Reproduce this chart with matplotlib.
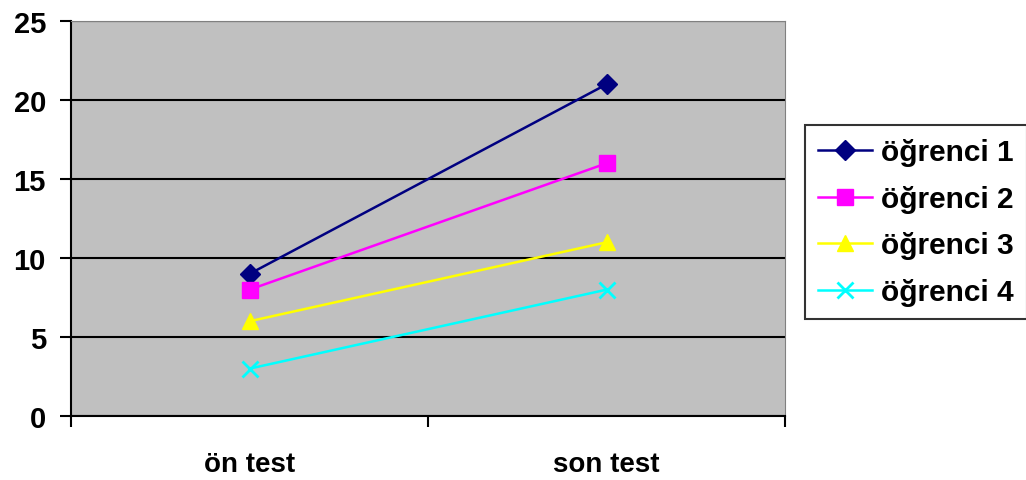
import matplotlib.pyplot as plt

categories = ['ön test', 'son test']
series_names = ['öğrenci 1', 'öğrenci 2', 'öğrenci 3', 'öğrenci 4']
series_values = [[9, 21], [8, 16], [6, 11], [3, 8]]
colors = ['#000080', '#FF00FF', '#FFFF00', '#00FFFF']
markers = ['D', 's', '^', 'x']
marker_sizes = [10, 11, 11, 11]

plt.rcParams['font.family'] = ['Liberation Sans', 'DejaVu Sans']
plt.rcParams['font.weight'] = 'bold'

fig = plt.figure(figsize=(10.26, 4.81), dpi=100)
ax = fig.add_axes([0.0692, 0.133, 0.696, 0.821])
ax.set_facecolor('#C0C0C0')

x = range(len(categories))
for name, vals, c, m, ms in zip(series_names, series_values, colors, markers, marker_sizes):
    ax.plot(x, vals, color=c, marker=m, markersize=ms, linewidth=1.8,
            markeredgewidth=2 if m == 'x' else 1, markeredgecolor=c, label=name)

ax.set_xlim(-0.5, 1.5)
ax.set_ylim(0, 25)
ax.set_yticks([0, 5, 10, 15, 20, 25])
ax.yaxis.grid(True, color='black', linewidth=1.5)
ax.set_axisbelow(True)

ax.set_xticks([-0.5, 0.5, 1.5])
ax.set_xticklabels([])
ax.set_xticks(list(x), minor=True)
ax.set_xticklabels(categories, minor=True, fontsize=20, fontweight='bold')
ax.tick_params(axis='x', which='minor', length=0, pad=25)
ax.tick_params(axis='x', which='major', length=8, width=1.5, direction='out')
ax.tick_params(axis='y', length=8, width=1.5, labelsize=21, pad=10)
for lbl in ax.get_yticklabels():
    lbl.set_fontweight('bold')

ax.spines['left'].set_linewidth(1.5)
ax.spines['bottom'].set_linewidth(1.5)
ax.spines['top'].set_color('#808080')
ax.spines['right'].set_color('#808080')

handles, labels = ax.get_legend_handles_labels()
leg = fig.legend(handles, labels, loc='upper left', bbox_to_anchor=(805 / 1026, 1 - 126 / 481),
                 frameon=True, fancybox=False, edgecolor='black',
                 prop={'size': 21.5, 'weight': 'bold'}, handlelength=1.8,
                 handletextpad=0.3, borderpad=0.45, labelspacing=0.62, borderaxespad=0)
leg.get_frame().set_linewidth(1.5)

fig.savefig('out.png', dpi=100)
